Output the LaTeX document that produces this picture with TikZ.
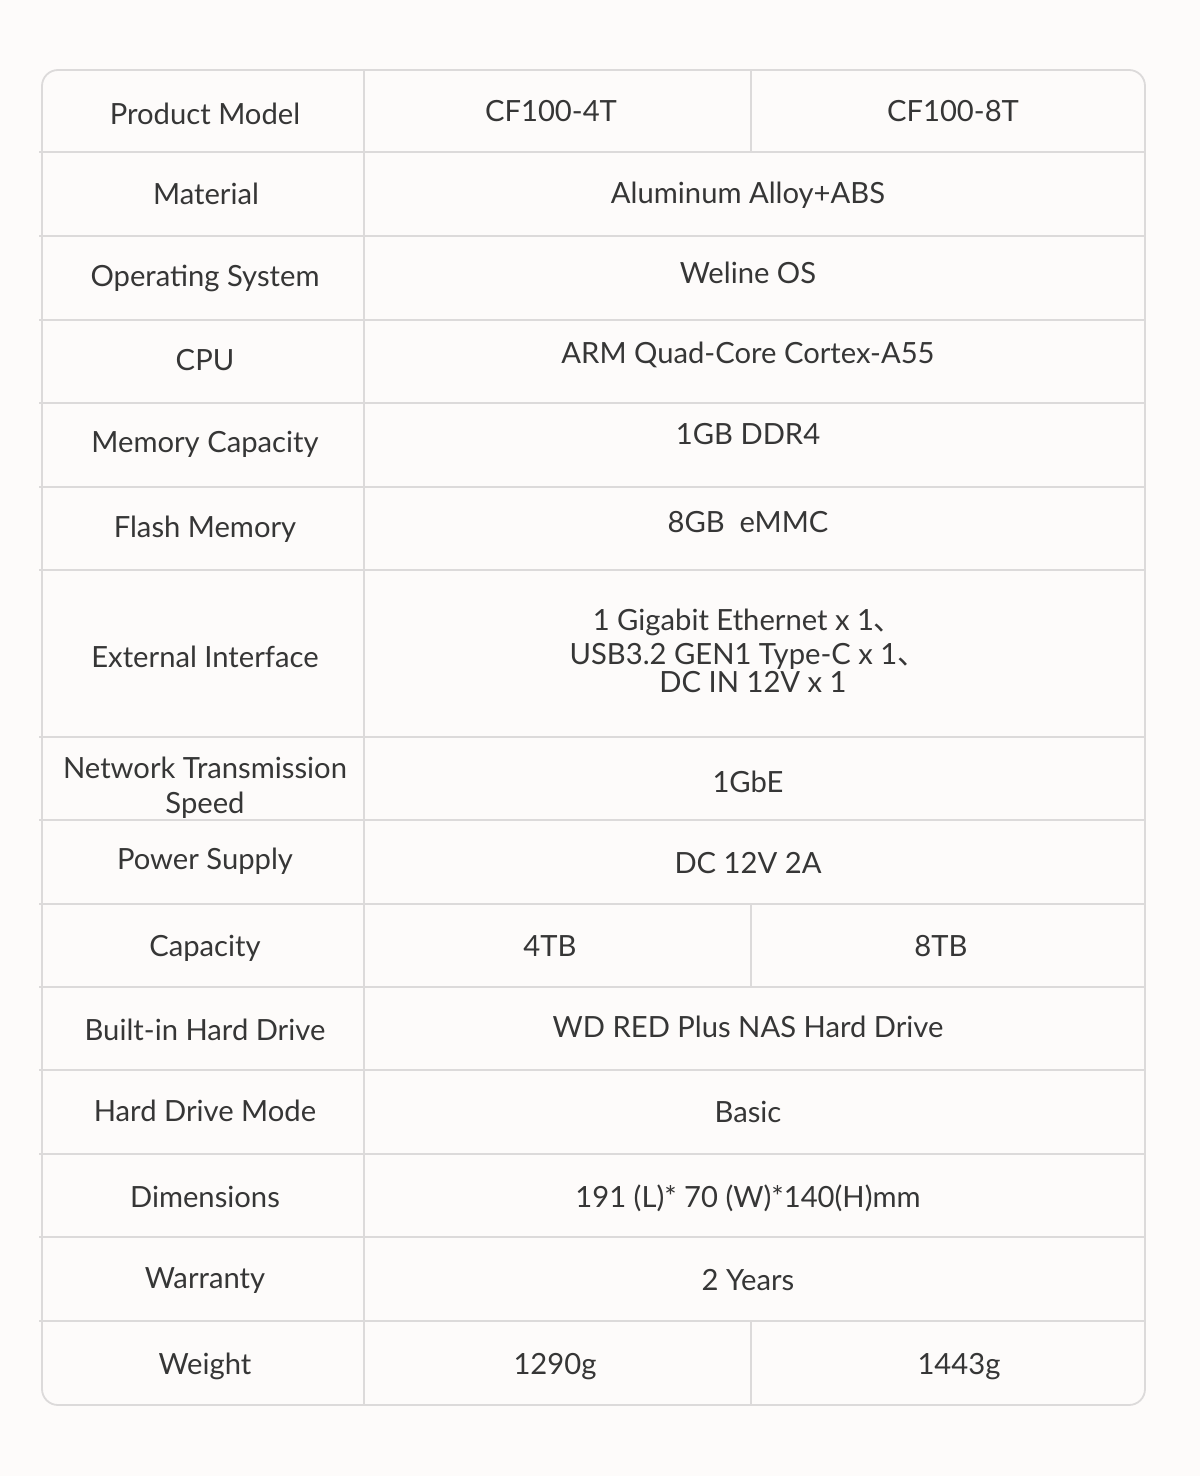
\documentclass[tikz,border=0pt]{standalone}
\usepackage{fontspec}
\setmainfont{Lato}
\newfontfamily\cjk{Noto Sans CJK SC}
\definecolor{bgc}{HTML}{FDFBFA}
\definecolor{linec}{HTML}{DCDADA}
\definecolor{txtc}{HTML}{363636}
\begin{document}
\begin{tikzpicture}[x=0.5pt,y=-0.5pt,
  grid/.style={draw=linec,line width=0.9pt},
  cell/.style={text=txtc,font=\fontsize{14.6}{17}\selectfont,inner sep=0pt,text height=7.5pt,text depth=-3pt,anchor=center,yshift=-1.5pt}]
\fill[bgc] (0,0) rectangle (1200,1476);
\useasboundingbox (0,0) rectangle (1200,1476);
% frame
\draw[grid,rounded corners=8pt] (42,70) rectangle (1145,1405);
\foreach \y in {152,236,320,403,487,570,737,820,904,987,1070,1154,1237,1321}
  \draw[grid] (39,\y) -- (1144,\y);
\draw[grid] (364,70) -- (364,1405);
\draw[grid] (751,70) -- (751,152);
\draw[grid] (751,904) -- (751,987);
\draw[grid] (751,1321) -- (751,1405);
% labels
\node[cell] (l1) at (205,114) {Product Model};
\node[cell] (l2) at (206,194) {Material};
\node[cell] (l3) at (205,276) {Operating System};
\node[cell] (l4) at (205,360) {CPU};
\node[cell] (l5) at (205,442) {Memory Capacity};
\node[cell] (l6) at (205,527) {Flash Memory};
\node[cell] (l7) at (205,657) {External Interface};
\node[cell] (l8a) at (205,768) {Network Transmission};
\node[cell] (l8b) at (205,803) {Speed};
\node[cell] (l9) at (205,859) {Power Supply};
\node[cell] (l10) at (205,946) {Capacity};
\node[cell] (l11) at (205,1030) {Built-in Hard Drive};
\node[cell] (l12) at (205,1111) {Hard Drive Mode};
\node[cell] (l13) at (205,1197) {Dimensions};
\node[cell] (l14) at (205,1278) {Warranty};
\node[cell] (l15) at (205,1364) {Weight};
% values
\node[cell] (v1a) at (551,111) {CF100-4T};
\node[cell] (v1b) at (953,111) {CF100-8T};
\node[cell] (v2) at (748,193) {Aluminum Alloy+ABS};
\node[cell] (v3) at (748,273) {Weline OS};
\node[cell] (v4) at (748,353) {ARM Quad-Core Cortex-A55};
\node[cell] (v5) at (748,434) {1GB DDR4};
\node[cell] (v6) at (748,522) {8GB\ \ eMMC};
\node[cell] (v7a) at (748,620) {1 Gigabit Ethernet x 1{\cjk 、}};
\node[cell] (v7b) at (748,654) {USB3.2 GEN1 Type-C x 1{\cjk 、}};
\node[cell] (v7c) at (753,682) {DC IN 12V x 1};
\node[cell] (v8) at (748,782) {1GbE};
\node[cell] (v9) at (748,863) {DC 12V 2A};
\node[cell] (v10a) at (550,946) {4TB};
\node[cell] (v10b) at (941,946) {8TB};
\node[cell] (v11) at (748,1027) {WD RED Plus NAS Hard Drive};
\node[cell] (v12) at (748,1112) {Basic};
\node[cell] (v13) at (748,1197) {191 (L)* 70 (W)*140(H)mm};
\node[cell] (v14) at (748,1280) {2 Years};
\node[cell] (v15a) at (555,1364) {1290g};
\node[cell] (v15b) at (959,1364) {1443g};
\end{tikzpicture}
\end{document}
